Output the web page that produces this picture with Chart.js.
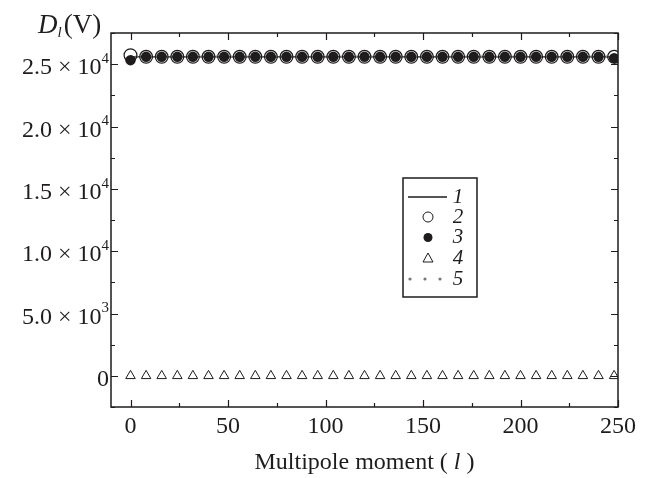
<!DOCTYPE html>
<html>
<head>
<meta charset="utf-8">
<script src="https://cdn.jsdelivr.net/npm/chart.js@4.4.0/dist/chart.umd.min.js"></script>
<style>
  body { margin: 0; background: #fff; }
  #wrap { width: 656px; height: 478px; }
</style>
</head>
<body>
<div id="wrap"><canvas id="grafico" width="656" height="478"></canvas></div>
<script>
// multipole moments where the symbols sit
const momentos = [0, 8, 16, 24, 32, 40, 48, 56, 64, 72, 80, 88, 96, 104, 112, 120,
                  128, 136, 144, 152, 160, 168, 176, 184, 192, 200, 208, 216, 224, 232, 240, 248];

// series 2 (open circles)
const serie2 = [25720, 25590, 25590, 25590, 25590, 25590, 25590, 25590, 25590, 25590, 25590, 25590, 25590, 25590, 25590, 25590,
                25590, 25590, 25590, 25590, 25590, 25590, 25590, 25590, 25590, 25590, 25590, 25590, 25590, 25590, 25590, 25590];
// series 3 (filled circles)
const serie3 = [25320, 25590, 25590, 25590, 25590, 25590, 25590, 25590, 25590, 25590, 25590, 25590, 25590, 25590, 25590, 25590,
                25590, 25590, 25590, 25590, 25590, 25590, 25590, 25590, 25590, 25590, 25590, 25590, 25590, 25590, 25590, 25480];
// series 4 (triangles)
const serie4 = [0, 0, 0, 0, 0, 0, 0, 0, 0, 0, 0, 0, 0, 0, 0, 0,
                0, 0, 0, 0, 0, 0, 0, 0, 0, 0, 0, 0, 0, 0, 0, 0];
// curves 1 and 5
const linhaL = [0, 250];
const serie1 = [25590, 25590];
const serie5 = [25590, 25590];

const xTicks = [0, 50, 100, 150, 200, 250];
const xMinor = [25, 75, 125, 175, 225];
const yTicks = [0, 5000, 10000, 15000, 20000, 25000];
const yLabels = [['0', ''], ['5.0 × 10', '3'], ['1.0 × 10', '4'], ['1.5 × 10', '4'], ['2.0 × 10', '4'], ['2.5 × 10', '4']];
const yMinor = [-2500, 2500, 7500, 12500, 17500, 22500, 27500];
const legendaNomes = ['1', '2', '3', '4', '5'];

const SERIF = '"Liberation Serif", "DejaVu Serif", serif';
const INK = '#1e1c1c';

const pares = (xs, ys) => xs.map((x, i) => ({ x: x, y: ys[i] }));

// moldura, ticks, textos e legenda
const desenhoExtra = {
    id: 'desenhoExtra',
    afterDraw(chart) {
        const ctx = chart.ctx;
        const a = chart.chartArea;
        const sx = chart.scales.x, sy = chart.scales.y;
        ctx.save();
        ctx.strokeStyle = INK;
        ctx.lineWidth = 1.5;
        ctx.strokeRect(a.left, a.top, a.right - a.left, a.bottom - a.top);

        ctx.lineWidth = 1.2;
        ctx.beginPath();
        xTicks.forEach(v => {
            const px = Math.round(sx.getPixelForValue(v)) + 0.5;
            ctx.moveTo(px, a.bottom); ctx.lineTo(px, a.bottom - 7);
            ctx.moveTo(px, a.top); ctx.lineTo(px, a.top + 7);
        });
        xMinor.forEach(v => {
            const px = Math.round(sx.getPixelForValue(v)) + 0.5;
            ctx.moveTo(px, a.bottom); ctx.lineTo(px, a.bottom - 4);
            ctx.moveTo(px, a.top); ctx.lineTo(px, a.top + 4);
        });
        yTicks.forEach(v => {
            const py = Math.round(sy.getPixelForValue(v)) + 0.5;
            ctx.moveTo(a.left, py); ctx.lineTo(a.left + 7, py);
            ctx.moveTo(a.right, py); ctx.lineTo(a.right - 7, py);
        });
        yMinor.forEach(v => {
            const py = Math.round(sy.getPixelForValue(v)) + 0.5;
            ctx.moveTo(a.left, py); ctx.lineTo(a.left + 4, py);
            ctx.moveTo(a.right, py); ctx.lineTo(a.right - 4, py);
        });
        ctx.stroke();

        // rótulos do eixo x
        ctx.fillStyle = INK;
        ctx.font = '24px ' + SERIF;
        ctx.textAlign = 'center';
        ctx.textBaseline = 'middle';
        xTicks.forEach(v => ctx.fillText(String(v), sx.getPixelForValue(v), 427));

        // título do eixo x
        ctx.font = '24px ' + SERIF;
        const t1 = 'Multipole moment ( ', t2 = 'l', t3 = ' )';
        ctx.textAlign = 'left';
        const w1 = ctx.measureText(t1).width, w3 = ctx.measureText(t3).width;
        ctx.font = 'italic 24px ' + SERIF;
        const w2 = ctx.measureText(t2).width;
        let xx = (a.left + a.right) / 2 - (w1 + w2 + w3) / 2;
        ctx.font = '24px ' + SERIF;
        ctx.fillText(t1, xx, 463); xx += w1;
        ctx.font = 'italic 24px ' + SERIF;
        ctx.fillText(t2, xx, 463); xx += w2;
        ctx.font = '24px ' + SERIF;
        ctx.fillText(t3, xx, 463);

        // rótulos do eixo y com expoente
        yTicks.forEach((v, i) => {
            const py = sy.getPixelForValue(v);
            const [base, exp] = yLabels[i];
            let right = 109;
            if (exp) {
                ctx.font = '15px ' + SERIF;
                const we = ctx.measureText(exp).width;
                ctx.textAlign = 'left';
                ctx.fillText(exp, right - we, py - 5);
                right -= we;
            }
            ctx.font = '24px ' + SERIF;
            ctx.textAlign = 'right';
            ctx.fillText(base, right, py + 4);
        });

        // título do eixo y: D_l(V)
        ctx.textAlign = 'left';
        ctx.textBaseline = 'alphabetic';
        ctx.font = 'italic 27px ' + SERIF;
        ctx.fillText('D', 38, 33);
        let tx = 38 + ctx.measureText('D').width;
        ctx.font = 'italic 15px ' + SERIF;
        ctx.fillText('l', tx, 37);
        tx += ctx.measureText('l').width + 2;
        ctx.font = '27px ' + SERIF;
        ctx.fillText('(V)', tx, 33);

        // legenda
        const lx = 403, ly = 178, lw = 74, lh = 119;
        ctx.fillStyle = '#fff';
        ctx.fillRect(lx, ly, lw, lh);
        ctx.strokeStyle = INK;
        ctx.lineWidth = 1.5;
        ctx.strokeRect(lx, ly, lw, lh);
        const linhas = [197, 217, 237.5, 258, 279];
        const cx = 428;
        // 1: linha preta
        ctx.lineWidth = 1.5;
        ctx.beginPath(); ctx.moveTo(408, linhas[0]); ctx.lineTo(447, linhas[0]); ctx.stroke();
        // 2: círculo aberto
        ctx.lineWidth = 1;
        ctx.beginPath(); ctx.arc(cx, linhas[1], 5, 0, Math.PI * 2); ctx.stroke();
        // 3: círculo cheio
        ctx.fillStyle = INK;
        ctx.beginPath(); ctx.arc(cx, linhas[2], 4.5, 0, Math.PI * 2); ctx.fill();
        // 4: triângulo
        ctx.beginPath();
        ctx.moveTo(cx, linhas[3] - 5); ctx.lineTo(cx + 5, linhas[3] + 4); ctx.lineTo(cx - 5, linhas[3] + 4); ctx.closePath();
        ctx.stroke();
        // 5: pontilhado cinza
        ctx.fillStyle = '#777';
        [410, 425, 440].forEach(d => { ctx.beginPath(); ctx.arc(d, linhas[4], 1.6, 0, Math.PI * 2); ctx.fill(); });
        ctx.fillStyle = INK;
        ctx.font = 'italic 21px ' + SERIF;
        ctx.textAlign = 'center';
        ctx.textBaseline = 'middle';
        legendaNomes.forEach((n, i) => ctx.fillText(n, 458, linhas[i]));
        ctx.restore();
    }
};

new Chart(document.getElementById('grafico'), {
    type: 'scatter',
    data: {
        datasets: [
            {
                label: '3',
                data: pares(momentos, serie3),
                showLine: false,
                pointStyle: 'circle',
                pointRadius: 5.2,
                pointBackgroundColor: INK,
                pointBorderColor: INK,
                pointBorderWidth: 0,
                order: 0
            },
            {
                label: '2',
                data: pares(momentos, serie2),
                showLine: false,
                pointStyle: 'circle',
                pointRadius: 6.4,
                pointBackgroundColor: 'rgba(0,0,0,0)',
                pointBorderColor: INK,
                pointBorderWidth: 1.2,
                order: 1
            },
            {
                label: '4',
                data: pares(momentos, serie4),
                showLine: false,
                pointStyle: 'triangle',
                pointRadius: 5.5,
                pointBackgroundColor: 'rgba(0,0,0,0)',
                pointBorderColor: INK,
                pointBorderWidth: 1,
                order: 1
            },
            {
                label: '5',
                data: pares(linhaL, serie5),
                showLine: true,
                borderColor: '#888',
                borderWidth: 2.5,
                borderDash: [2, 3],
                pointRadius: 0,
                order: 2
            },
            {
                label: '1',
                data: pares(linhaL, serie1),
                showLine: true,
                borderColor: INK,
                borderWidth: 1.2,
                pointRadius: 0,
                order: 3
            }
        ]
    },
    options: {
        responsive: false,
        animation: false,
        layout: { padding: { top: 33, right: 38, left: 0, bottom: 0 } },
        plugins: {
            legend: { display: false },
            tooltip: { enabled: false }
        },
        scales: {
            x: {
                type: 'linear',
                min: -10,
                max: 250,
                grid: { display: false },
                border: { display: false },
                ticks: { display: false },
                afterFit(scale) { scale.height = 71; }
            },
            y: {
                type: 'linear',
                min: -2500,
                max: 27500,
                grid: { display: false },
                border: { display: false },
                ticks: { display: false },
                afterFit(scale) { scale.width = 111; }
            }
        }
    },
    plugins: [desenhoExtra]
});
</script>
</body>
</html>
